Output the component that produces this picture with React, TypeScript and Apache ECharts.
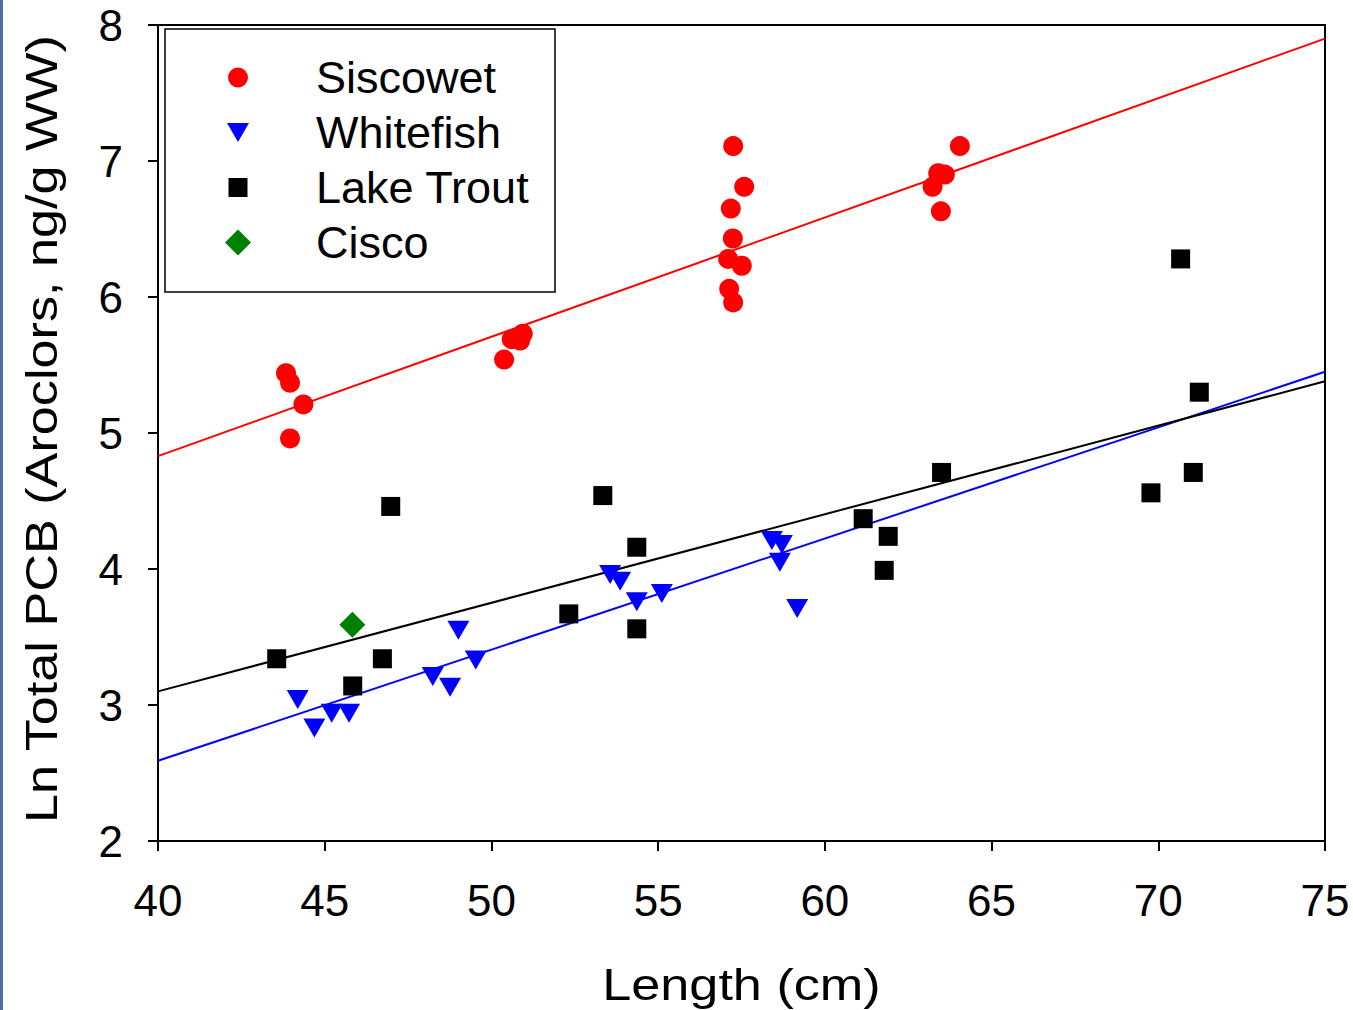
import React, { useEffect, useRef } from "react";
import * as echarts from "echarts";

// ---- Data ----
const siscowetX = [43.84, 43.96, 44.36, 43.96, 50.38, 50.61, 50.86, 50.94, 57.25, 57.58, 57.18, 57.24, 57.1, 57.51, 57.13, 57.25, 64.05, 63.4, 63.6, 63.23, 63.48];
const siscowetY = [5.44, 5.37, 5.21, 4.96, 5.54, 5.69, 5.68, 5.73, 7.11, 6.81, 6.65, 6.43, 6.28, 6.23, 6.06, 5.96, 7.11, 6.91, 6.9, 6.81, 6.63];

const whitefishX = [44.19, 44.69, 45.21, 45.73, 48.24, 48.76, 49.01, 49.53, 53.56, 53.86, 54.36, 55.11, 58.41, 58.71, 58.65, 59.17];
const whitefishY = [3.04, 2.83, 2.94, 2.94, 3.21, 3.13, 3.55, 3.33, 3.96, 3.91, 3.76, 3.82, 4.21, 4.18, 4.05, 3.71];

const troutX = [43.56, 45.84, 46.73, 46.98, 52.32, 53.34, 54.36, 54.36, 61.15, 61.9, 61.78, 63.5, 69.78, 70.67, 71.05, 71.23];
const troutY = [3.34, 3.14, 3.34, 4.46, 3.67, 4.54, 4.16, 3.56, 4.37, 4.24, 3.99, 4.71, 4.56, 6.28, 4.71, 5.3];

const ciscoX = [45.83];
const ciscoY = [3.59];

// regression lines (end points)
const fitX = [40, 75];
const siscowetFit = [4.83, 7.9];
const whitefishFit = [2.59, 5.45];
const troutFit = [3.1, 5.38];

const xTicks = { min: 40, max: 75, interval: 5 };
const yTicks = { min: 2, max: 8, interval: 1 };

const seriesNames = ["Siscowet", "Whitefish", "Lake Trout", "Cisco"];
const xTitle = "Length (cm)";
const yTitle = "Ln Total PCB (Aroclors, ng/g WW)";

const FONT = "'Liberation Sans', Arial, Helvetica, sans-serif";

const pairs = (xs: number[], ys: number[]) => xs.map((x, i) => [x, ys[i]]);

const DOWN_TRI = "path://M0,0L22,0L11,19Z";

// legend icons, framed in a 26x26 box so that they keep their own size
const legendIcons = [
  "path://M0,0M26,26M23,13A10,10,0,1,1,3,13A10,10,0,1,1,23,13Z",
  "path://M0,0M26,26M2,3.5L24,3.5L13,22.5Z",
  "path://M0,0M26,26M3.5,3.5L22.5,3.5L22.5,22.5L3.5,22.5Z",
  "path://M0,0M26,26M13,0L26,13L13,26L0,13Z",
];

export default function App() {
  const ref = useRef<HTMLDivElement>(null);

  useEffect(() => {
    if (!ref.current) return;
    const chart = echarts.init(ref.current, undefined, { renderer: "svg" });

    const lineSeries = (data: number[], color: string) => ({
      type: "line",
      data: pairs(fitX, data),
      showSymbol: false,
      symbol: "none",
      lineStyle: { color, width: 2 },
      z: 1,
      silent: true,
    });

    const option: any = {
      animation: false,
      backgroundColor: "#ffffff",
      textStyle: { fontFamily: FONT },
      grid: {
        left: 158,
        right: 28,
        top: 25,
        bottom: 169,
        show: true,
        borderColor: "#000",
        borderWidth: 2,
        backgroundColor: "transparent",
      },
      xAxis: {
        type: "value",
        min: xTicks.min,
        max: xTicks.max,
        interval: xTicks.interval,
        axisLine: { show: true, onZero: false, lineStyle: { color: "#000", width: 2 } },
        axisTick: { show: true, inside: false, length: 10, lineStyle: { color: "#000", width: 2 } },
        axisLabel: { color: "#000", fontSize: 44, fontFamily: FONT, margin: 37 },
        splitLine: { show: false },
      },
      yAxis: {
        type: "value",
        min: yTicks.min,
        max: yTicks.max,
        interval: yTicks.interval,
        axisLine: { show: true, onZero: false, lineStyle: { color: "#000", width: 2 } },
        axisTick: { show: true, inside: false, length: 10, lineStyle: { color: "#000", width: 2 } },
        axisLabel: { color: "#000", fontSize: 44, fontFamily: FONT, margin: 35 },
        splitLine: { show: false },
      },
      legend: {
        orient: "vertical",
        left: 225,
        top: 55,
        padding: 0,
        itemGap: 10,
        itemWidth: 26,
        itemHeight: 26,
        symbolKeepAspect: true,
        data: seriesNames.map((n, i) => ({ name: n, icon: legendIcons[i] })),
        textStyle: {
          fontSize: 45,
          lineHeight: 44,
          fontFamily: FONT,
          color: "#000",
          padding: [0, 0, 0, 60],
        },
      },
      graphic: [
        {
          type: "rect",
          left: 0,
          top: 0,
          shape: { width: 3, height: 1010 },
          style: { fill: "#4f6fa0" },
          silent: true,
        },
        {
          type: "rect",
          shape: { x: 165, y: 29, width: 390, height: 263 },
          style: { fill: "transparent", stroke: "#000", lineWidth: 1.5 },
          silent: true,
          z: -1,
        },
        {
          type: "text",
          x: 741.5,
          y: 984,
          scaleX: 1.16,
          style: {
            text: xTitle,
            fontSize: 45,
            fontFamily: FONT,
            fill: "#000",
            align: "center",
            verticalAlign: "middle",
          },
        },
        {
          type: "text",
          x: 41,
          y: 429,
          rotation: Math.PI / 2,
          scaleX: 1.16,
          style: {
            text: yTitle,
            fontSize: 45,
            fontFamily: FONT,
            fill: "#000",
            align: "center",
            verticalAlign: "middle",
          },
        },
      ],
      series: [
        lineSeries(siscowetFit, "#ff0000"),
        lineSeries(whitefishFit, "#0000ff"),
        lineSeries(troutFit, "#000000"),
        {
          name: seriesNames[0],
          type: "scatter",
          data: pairs(siscowetX, siscowetY),
          symbol: "circle",
          symbolSize: 20,
          itemStyle: { color: "#ff0000", opacity: 1 },
          z: 3,
        },
        {
          name: seriesNames[1],
          type: "scatter",
          data: pairs(whitefishX, whitefishY),
          symbol: DOWN_TRI,
          symbolSize: [22, 19],
          itemStyle: { color: "#0000ff", opacity: 1 },
          z: 3,
        },
        {
          name: seriesNames[2],
          type: "scatter",
          data: pairs(troutX, troutY),
          symbol: "rect",
          symbolSize: 19,
          itemStyle: { color: "#000000", opacity: 1 },
          z: 3,
        },
        {
          name: seriesNames[3],
          type: "scatter",
          data: pairs(ciscoX, ciscoY),
          symbol: "diamond",
          symbolSize: 26,
          itemStyle: { color: "#008000", opacity: 1 },
          z: 3,
        },
      ],
    };

    chart.setOption(option);
    return () => chart.dispose();
  }, []);

  return (
    <div
      ref={ref}
      style={{ position: "absolute", left: 0, top: 0, width: 1353, height: 1010, background: "#fff" }}
    />
  );
}
